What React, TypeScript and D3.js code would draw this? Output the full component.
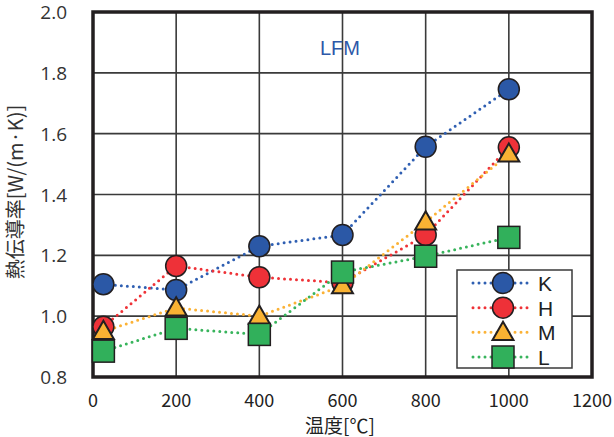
import React from 'react';
import * as d3 from 'd3';

// 温度 [°C]
const temps = [25, 200, 400, 600, 800, 1000];
const seriesNames = ['K', 'H', 'M', 'L'];
const kValues = [1.105, 1.086, 1.23, 1.267, 1.557, 1.746];
const hValues = [0.965, 1.165, 1.128, 1.11, 1.267, 1.555];
const mValues = [0.95, 1.027, 1.0, 1.10, 1.31, 1.533];
const lValues = [0.885, 0.96, 0.94, 1.145, 1.197, 1.259];
const xTicks = [0, 200, 400, 600, 800, 1000, 1200];
const yTicks = [0.8, 1.0, 1.2, 1.4, 1.6, 1.8, 2.0];

const W = 614;
const H = 437;
const margin = { left: 93, right: 22, top: 12, bottom: 60 };

const styles: Record<string, { fill: string; dot: string; shape: string }> = {
  K: { fill: '#2b58a6', dot: '#2f5fb2', shape: 'circle' },
  H: { fill: '#ee3138', dot: '#ef3237', shape: 'circle' },
  M: { fill: '#f9b233', dot: '#fbb236', shape: 'triangle' },
  L: { fill: '#31b05b', dot: '#38b45c', shape: 'square' },
};

const Marker = ({ shape, x, y, fill }: { shape: string; x: number; y: number; fill: string }) => {
  const stroke = '#231f20';
  if (shape === 'circle') return <circle cx={x} cy={y} r={10.5} fill={fill} stroke={stroke} strokeWidth={1.5} />;
  if (shape === 'square') return <rect x={x - 11} y={y - 11} width={22} height={22} fill={fill} stroke={stroke} strokeWidth={1.5} />;
  const p = d3.symbol(d3.symbolTriangle, 190)();
  return <path d={p || ''} transform={`translate(${x},${y + 1.5})`} fill={fill} stroke={stroke} strokeWidth={2} />;
};

export default function App() {
  const x = d3.scaleLinear().domain([0, 1200]).range([margin.left, W - margin.right]);
  const y = d3.scaleLinear().domain([0.8, 2.0]).range([H - margin.bottom, margin.top]);
  const all = [kValues, hValues, mValues, lValues];
  const line = d3.line<number>().x((_, i) => x(temps[i])).y(v => y(v));
  const legendRows = d3.scalePoint<string>().domain(seriesNames).range([283, 357]);

  return (
    <svg width={W} height={H} style={{ position: 'absolute', left: 0, top: 0, background: '#fff' }}>
      {/* grid */}
      {xTicks.slice(1, -1).map(t => (
        <line key={'gx' + t} x1={x(t)} x2={x(t)} y1={y(2.0)} y2={y(0.8)} stroke="#3a3a3a" strokeWidth={1.6} />
      ))}
      {yTicks.slice(1, -1).map(t => (
        <line key={'gy' + t} x1={x(0)} x2={x(1200)} y1={y(t)} y2={y(t)} stroke="#3a3a3a" strokeWidth={1.6} />
      ))}
      <rect x={x(0)} y={y(2.0)} width={x(1200) - x(0)} height={y(0.8) - y(2.0)} fill="none" stroke="#231f20" strokeWidth={3.5} />

      {/* tick labels */}
      {yTicks.map(t => (
        <text key={'ty' + t} x={67} y={y(t) + 7} textAnchor="end" fontSize={19} fill="#333" fontFamily="'Open Sans', sans-serif">
          {t.toFixed(1)}
        </text>
      ))}
      {xTicks.map(t => (
        <text key={'tx' + t} x={x(t)} y={407} textAnchor="middle" fontSize={18} fill="#222" fontFamily="'Noto Sans CJK JP', sans-serif">
          {t}
        </text>
      ))}
      <text x={340} y={433} textAnchor="middle" fontSize={19} fill="#222" fontFamily="'Noto Sans CJK JP', sans-serif">温度[℃]</text>
      <text transform="translate(23,192) rotate(-90)" textAnchor="middle" fontSize={20} fill="#333" fontFamily="'Noto Sans CJK JP', sans-serif">
        熱伝導率[W/(m·K)]
      </text>
      <text x={340} y={55} textAnchor="middle" fontSize={20} fill="#2e58a8" fontFamily="'Liberation Sans', Arial, sans-serif">LFM</text>

      {/* series */}
      {all.map((vals, s) => (
        <path key={'l' + s} d={line(vals) || ''} fill="none" stroke={styles[seriesNames[s]].dot}
          strokeWidth={3} strokeLinecap="round" strokeDasharray="0 6" />
      ))}
      {all.map((vals, s) =>
        vals.map((v, i) => (
          <Marker key={'m' + s + i} shape={styles[seriesNames[s]].shape} x={x(temps[i])} y={y(v)} fill={styles[seriesNames[s]].fill} />
        ))
      )}

      {/* legend */}
      <rect x={457} y={270} width={115} height={98} fill="#fff" stroke="#3a3a3a" strokeWidth={1.5} />
      {seriesNames.map(n => (
        <g key={'lg' + n}>
          <line x1={473} x2={533} y1={legendRows(n)} y2={legendRows(n)} stroke={styles[n].dot} strokeWidth={3} strokeLinecap="round" strokeDasharray="0 6" />
          <Marker shape={styles[n].shape} x={503} y={legendRows(n) as number} fill={styles[n].fill} />
          <text x={538} y={(legendRows(n) as number) + 8} fontSize={21} fill="#222" fontFamily="'Liberation Sans', Arial, sans-serif">{n}</text>
        </g>
      ))}
    </svg>
  );
}
